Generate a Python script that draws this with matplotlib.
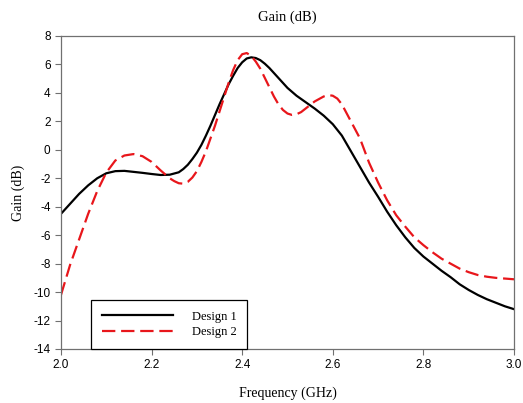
import matplotlib
matplotlib.use("Agg")
import matplotlib.pyplot as plt

# values
freq1 = [2.00, 2.02, 2.04, 2.06, 2.08, 2.10, 2.12, 2.14, 2.16, 2.18, 2.20, 2.22, 2.24,
         2.26, 2.27, 2.28, 2.29, 2.30, 2.31, 2.32, 2.33, 2.34, 2.35, 2.36, 2.37, 2.38,
         2.39, 2.40, 2.41, 2.42, 2.43, 2.44, 2.45, 2.46, 2.48, 2.50,
         2.52, 2.54, 2.56, 2.58, 2.60, 2.62, 2.64, 2.66, 2.68, 2.70, 2.72, 2.74, 2.76,
         2.78, 2.80, 2.82, 2.84, 2.86, 2.88, 2.90, 2.92, 2.94, 2.96, 2.98, 3.00]
gain1 = [-4.5, -3.8, -3.1, -2.5, -2.0, -1.65, -1.5, -1.48, -1.55, -1.62, -1.7, -1.77, -1.75,
         -1.58, -1.35, -1.05, -0.65, -0.2, 0.35, 1.0, 1.7, 2.45, 3.2, 3.9, 4.6, 5.2,
         5.75, 6.15, 6.42, 6.5, 6.45, 6.3, 6.05, 5.75, 5.05, 4.35,
         3.8, 3.35, 2.9, 2.4, 1.8, 1.0, -0.1, -1.2, -2.3, -3.3, -4.35, -5.3, -6.15,
         -6.9, -7.5, -8.0, -8.5, -8.95, -9.45, -9.85, -10.2, -10.5, -10.75, -11.0, -11.2]

freq2 = [2.00, 2.02, 2.04, 2.06, 2.08, 2.10, 2.12, 2.14, 2.16, 2.18, 2.20, 2.22, 2.24,
         2.25, 2.26, 2.27, 2.28, 2.29, 2.30, 2.31, 2.32, 2.33, 2.34, 2.35, 2.36, 2.37,
         2.38, 2.39, 2.40, 2.41, 2.42, 2.43, 2.44, 2.45, 2.46, 2.47, 2.48, 2.49, 2.50,
         2.51, 2.52, 2.53, 2.54, 2.56, 2.58, 2.59, 2.60, 2.61, 2.62, 2.64, 2.66, 2.68,
         2.70, 2.72, 2.74, 2.76, 2.78, 2.80, 2.82, 2.84, 2.86, 2.88, 2.90, 2.92, 2.94,
         2.96, 2.98, 3.00]
gain2 = [-10.2, -8.1, -6.3, -4.5, -2.9, -1.6, -0.75, -0.4, -0.3, -0.45, -0.85, -1.45, -2.0,
         -2.2, -2.35, -2.38, -2.25, -1.95, -1.5, -0.85, -0.1, 0.8, 1.7, 2.7, 3.7, 4.7,
         5.6, 6.3, 6.72, 6.8, 6.6, 6.2, 5.7, 5.05, 4.4, 3.75, 3.2, 2.8, 2.55,
         2.45, 2.5, 2.65, 2.9, 3.4, 3.75, 3.85, 3.8, 3.6, 3.2, 2.0, 0.8, -0.9,
         -2.3, -3.55, -4.6, -5.4, -6.15, -6.7, -7.2, -7.65, -8.0, -8.35, -8.6, -8.8, -8.92,
         -9.0, -9.05, -9.1]

xticks = [2.0, 2.2, 2.4, 2.6, 2.8, 3.0]
yticks = list(range(-14, 9, 2))

serif = ["Liberation Serif", "DejaVu Serif"]
sans = ["Liberation Sans", "DejaVu Sans"]

fig = plt.figure(figsize=(5.23, 4.03), dpi=100)
ax = fig.add_axes([0.1166, 0.134, 0.8662, 0.7767])

ax.plot(freq1, gain1, color="black", lw=1.6, label="Design 1")
ax.plot(freq2, gain2, color="#e8161b", lw=1.6, dashes=(6, 2.6), label="Design 2")

ax.set_xlim(2.0, 3.0)
ax.set_ylim(-14, 8)
ax.set_xticks(xticks)
ax.set_xticklabels(["%.1f" % t for t in xticks], family=sans, fontsize=8.5)
ax.set_yticks(yticks)
ax.set_yticklabels([str(t) for t in yticks], family=sans, fontsize=8.5)
ax.tick_params(direction="out", length=4, width=0.8, color="#707070",
               top=False, right=False)

for s in ax.spines.values():
    s.set_color("#707070")
    s.set_linewidth(0.9)

ax.set_title("Gain (dB)", family=serif, fontsize=10.5, pad=11)
ax.set_xlabel("Frequency (GHz)", family=serif, fontsize=10, labelpad=11)
ax.set_ylabel("Gain (dB)", family=serif, fontsize=10, labelpad=6)

leg = ax.legend(loc="lower left", bbox_to_anchor=(0.066, 0.0), borderaxespad=0,
                prop={"family": serif, "size": 9}, fancybox=False,
                edgecolor="black", framealpha=1, handlelength=5.7,
                handletextpad=1.5, borderpad=0.85, labelspacing=0.3)
leg.get_frame().set_linewidth(0.9)

fig.savefig("out.png", dpi=100)
